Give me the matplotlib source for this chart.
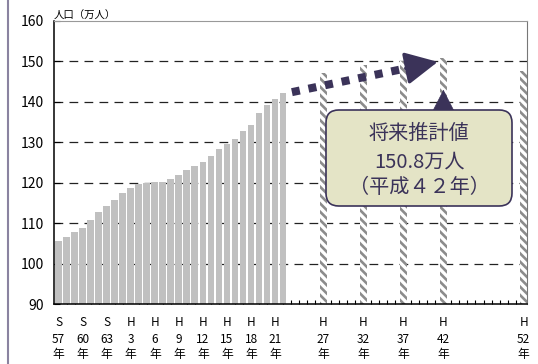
import matplotlib.pyplot as plt
from matplotlib.patches import FancyBboxPatch
from matplotlib.lines import Line2D

plt.rcParams['font.family'] = ['Noto Sans CJK JP', 'DejaVu Sans']
plt.rcParams['hatch.linewidth'] = 1.9

# 実績値 (S57〜H22)
years_actual = list(range(1982, 2011))
pop_actual = [105.7, 106.6, 107.9, 108.8, 110.8, 112.8, 114.3, 115.7, 117.4, 118.7,
              119.7, 120.0, 120.1, 120.1, 120.9, 121.9, 123.2, 124.1, 125.1, 126.6,
              128.3, 129.5, 130.7, 132.7, 134.2, 137.2, 139.2, 140.8, 142.3]

# 将来推計値
years_future = [2015, 2020, 2025, 2030, 2040]
pop_future = [147.1, 149.2, 150.0, 150.8, 147.7]

# 軸ラベル
tick_years = [1982, 1985, 1988, 1991, 1994, 1997, 2000, 2003, 2006, 2009,
              2015, 2020, 2025, 2030, 2040]
tick_era = ['S', 'S', 'S', 'H', 'H', 'H', 'H', 'H', 'H', 'H', 'H', 'H', 'H', 'H', 'H']
tick_num = ['57', '60', '63', '3', '6', '9', '12', '15', '18', '21',
            '27', '32', '37', '42', '52']

base = 1982
navy = '#3b3359'

fig = plt.figure(figsize=(5.38, 3.64), dpi=100)
ax = fig.add_axes([54 / 538, 1 - 304 / 364, 473 / 538, 283 / 364])

w = 0.85
ax.bar([y - base for y in years_actual], pop_actual, width=w, bottom=0,
       color='#c0c0c0', zorder=2)
ax.bar([y - base for y in years_future], pop_future, width=w,
       facecolor='white', edgecolor='#8c8c8c', hatch='\\\\\\\\', linewidth=0, zorder=2)

ax.set_xlim(-w / 2 - 0.15, 58 + w / 2)
ax.set_ylim(90, 160)
ax.set_yticks(range(90, 170, 10))
ax.tick_params(axis='y', direction='in', length=4, pad=7, labelsize=10, colors='black')
ax.set_xticks([y - base for y in tick_years])
ax.set_xticklabels([])
ax.tick_params(axis='x', which='major', length=0)
ax.set_xticks(range(0, 59), minor=True)
ax.tick_params(axis='x', which='minor', direction='in', length=3, width=0.8)

# 年次ラベル（3段）
trans = ax.get_xaxis_transform()
for yr, e, n in zip(tick_years, tick_era, tick_num):
    for txt, yy in zip([e, n, '年'], [-0.067, -0.124, -0.180]):
        ax.text(yr - base, yy, txt, transform=trans, ha='center', va='center',
                fontsize=8.5)

for v in range(100, 160, 10):
    ax.axhline(v, color='#222222', lw=0.9, dashes=(7, 5), zorder=1)

for s in ['left', 'bottom']:
    ax.spines[s].set_linewidth(1.1)
ax.spines['top'].set_color('#999999')
ax.spines['right'].set_color('#777777')

ax.text(0.0, 1.0, '人口（万人）', transform=ax.transAxes, ha='left', va='bottom',
        fontsize=7.5)

# 点線矢印
x0, y0 = 29.1, 142.4
x1, y1 = 43.6, 148.4
ax.plot([x0, x1], [y0, y1], color=navy, lw=5.8, dashes=(1, 1.1),
        solid_capstyle='butt', dash_capstyle='butt', zorder=5)
ax.annotate('', xy=(47.3, 149.9), xytext=(x1 - 0.3, y1 - 0.1),
            arrowprops=dict(arrowstyle='-|>,head_length=1.0,head_width=0.5',
                            mutation_scale=20, color=navy, lw=2.5,
                            joinstyle='round', shrinkA=0, shrinkB=0),
            zorder=5)

# 吹き出しの三角
ax.annotate('', xy=(48, 143.0), xytext=(48, 137.8),
            arrowprops=dict(arrowstyle='-|>,head_length=0.72,head_width=0.37',
                            mutation_scale=20, color=navy, lw=0.5,
                            shrinkA=0, shrinkB=0),
            zorder=5)

bx0, bx1 = (326 - 54) / 473, (512 - 54) / 473
by0, by1 = 1 - (206 - 21) / 283, 1 - (110 - 21) / 283
box = FancyBboxPatch((bx0, by0), bx1 - bx0, by1 - by0,
                     boxstyle='round,pad=0,rounding_size=0.027',
                     mutation_aspect=473 / 283, transform=ax.transAxes,
                     facecolor='#e4e4c6', edgecolor=navy, lw=1.2, zorder=6)
ax.add_patch(box)
cx = (bx0 + bx1) / 2
for txt, yy in zip(['将来推計値', '150.8万人', '（平成４２年）'], [0.601, 0.502, 0.413]):
    ax.text(cx, yy, txt, transform=ax.transAxes, ha='center', va='center',
            fontsize=14.5, color=navy, zorder=7)

fig.add_artist(Line2D([7.5 / 538, 7.5 / 538], [0, 1], transform=fig.transFigure,
                      color='#8a83a0', lw=1.5))

fig.savefig('out.png', dpi=100)
